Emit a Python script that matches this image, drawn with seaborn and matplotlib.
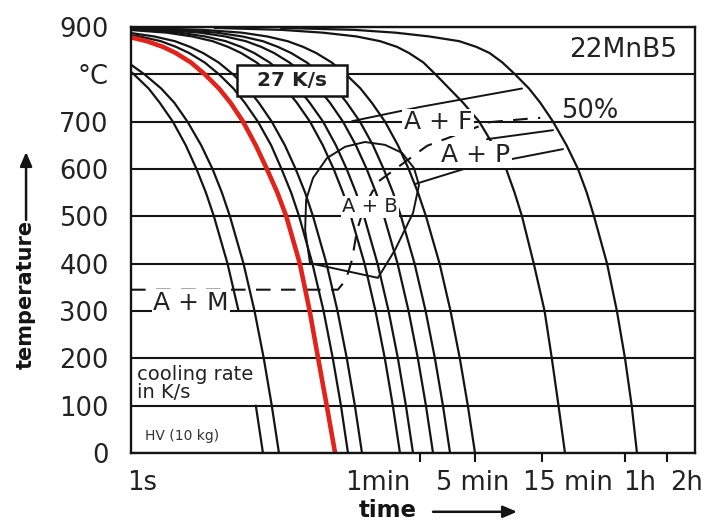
import matplotlib
matplotlib.use("Agg")
import matplotlib.pyplot as plt
import seaborn as sns
from matplotlib.ticker import FixedLocator, NullFormatter

# ---------------- data ----------------
# temperature levels (°C) at which the cooling curves were read
TEMPS = [898, 894, 888, 880, 870, 858, 845, 825, 800, 770, 740, 700, 650, 600,
         550, 500, 400, 300, 200, 100, 0]

# time (s) at which each cooling curve reaches the levels above
C1 = [0.036, 0.098, 0.187, 0.285, 0.40, 0.52, 0.64, 0.83, 1.05, 1.34, 1.61, 2.0,
      2.48, 2.96, 3.46, 3.95, 4.95, 5.94, 6.92, 7.91, 8.9]
C2 = [0.046, 0.128, 0.244, 0.371, 0.50, 0.63, 0.76, 0.95, 1.25, 1.65, 2.05, 2.55,
      3.2, 3.86, 4.51, 5.15, 6.45, 7.74, 9.02, 10.3, 11.6]
RED_27KS = [0.12, 0.32, 0.62, 0.94, 1.3, 1.7, 2.1, 2.7, 3.4, 4.3, 5.2, 6.4, 7.9,
            9.5, 11.3, 13.1, 16.4, 19.3, 22.2, 25.6, 29.4]
C4 = [0.146, 0.40, 0.76, 1.16, 1.64, 2.11, 2.62, 3.39, 4.30, 5.46, 6.59, 8.19,
      10.2, 12.1, 14.2, 16.2, 20.2, 24.3, 28.3, 32.4, 36.4]
C5 = [0.184, 0.50, 0.96, 1.47, 2.07, 2.66, 3.30, 4.27, 5.42, 6.89, 8.31, 10.3,
      12.8, 15.3, 17.9, 20.4, 25.5, 30.6, 35.7, 40.8, 45.9]
C6 = [0.344, 0.95, 1.81, 2.76, 3.87, 4.99, 6.20, 8.01, 10.2, 12.9, 15.6, 19.4,
      24.0, 28.7, 33.5, 38.2, 47.9, 57.4, 67.0, 76.5, 86.1]
C7 = [0.43, 1.18, 2.24, 3.42, 4.81, 6.20, 7.70, 9.94, 12.6, 16.0, 19.3, 24.1,
      29.8, 35.6, 41.6, 47.5, 59.4, 71.3, 83.2, 95.0, 106.9]
C8 = [0.60, 1.64, 3.13, 4.76, 6.70, 8.64, 10.7, 13.8, 17.6, 22.3, 27.0, 33.5,
      41.5, 49.6, 57.9, 66.1, 82.8, 99.3, 115.8, 132.4, 148.9]
C9 = [0.79, 2.17, 4.15, 6.32, 8.88, 11.4, 14.2, 18.4, 23.3, 29.6, 35.7, 44.4,
      55.1, 65.7, 76.8, 87.6, 109.7, 131.7, 153.6, 175.5, 197.4]
C10 = [1.19, 3.28, 6.27, 9.55, 13.4, 17.3, 21.5, 27.8, 35.2, 44.8, 54.0, 67.2,
       83.3, 99.4, 116.1, 132.5, 166, 199, 232, 265, 298.5]
C11 = [4, 12, 24, 42, 62, 82, 100, 127, 155, 195, 245, 320, 405, 500, 575, 650,
       790, 945, 1065, 1190, 1325]
C12 = [12, 40, 80, 140, 230, 305, 380, 470, 579, 730, 880, 1087, 1360, 1644,
       1900, 2143, 2660, 3130, 3580, 4000, 4365]
BLACK_CURVES = [C2, C4, C5, C6, C7, C8, C9, C10, C11, C12]
# the fastest curve is interrupted between 200 °C and 100 °C (label gap)
C1_BREAK = 19   # index of the 100 °C level in TEMPS

# bainite region outline (time s, temperature °C)
BAIN_T = [19.4, 17.9, 18.2, 20.4, 25.7, 34.7, 48.2, 67.2, 89.1, 108.6, 118, 106.9, 79.3, 59.8, 19.4]
BAIN_C = [401, 471, 535, 581, 623, 647, 657, 651, 634, 602, 566, 507, 429, 370, 401]

# ferrite start line
FERR_T = [38.9, 120, 650]
FERR_C = [701, 731, 770]

# pearlite start line
PERL_T = [110, 275, 595, 1282]
PERL_C = [568, 604, 623, 642]

# 50 % line (Ms horizontal part, then up through A+B towards 50 %)
HALF_T = [1, 30.8, 35.2, 38.9, 42.3, 48.2, 59.8, 135, 383, 706, 880]
HALF_C = [345, 345, 366, 408, 471, 524, 573, 649, 699, 706, 708]

# short line right of A + F
FBR_T = [364, 1087]
FBR_C = [663, 682]

# axis ticks / labels
Y_TICKS = [0, 100, 200, 300, 400, 500, 600, 700, 800, 900]
Y_LABELS = ["0", "100", "200", "300", "400", "500", "600", "700", "°C", "900"]
X_TICK_MARKS = [60, 120, 300, 900, 3600, 7200]
X_LABEL_POS = [1.2, 60, 289, 1393, 4590, 10000]
X_LABELS = ["1s", "1min", "5 min", "15 min", "1h", "2h"]

# ---------------- drawing ----------------
sns.set_theme(style="white")
plt.rcParams["font.family"] = ["DejaVu Sans"]

INK = "#141414"
TXT = "#222222"
RED = "#e1231c"

fig = plt.figure(figsize=(7.13, 5.22), dpi=100)
ax = fig.add_axes([0.1837, 0.1322, 0.7911, 0.8161])

line_kw = dict(ax=ax, sort=False, estimator=None, legend=False)

sns.lineplot(x=C1[:C1_BREAK - 1], y=TEMPS[:C1_BREAK - 1], color=INK, linewidth=1.6,
             zorder=3, **line_kw)
sns.lineplot(x=C1[C1_BREAK:], y=TEMPS[C1_BREAK:], color=INK, linewidth=1.6,
             zorder=3, **line_kw)
for c in BLACK_CURVES:
    sns.lineplot(x=c, y=TEMPS, color=INK, linewidth=1.6, zorder=3, **line_kw)
sns.lineplot(x=RED_27KS, y=TEMPS, color=RED, linewidth=3.3, zorder=4, **line_kw)

sns.lineplot(x=BAIN_T, y=BAIN_C, color=INK, linewidth=1.4, zorder=3, **line_kw)
sns.lineplot(x=FERR_T, y=FERR_C, color=INK, linewidth=1.4, zorder=3, **line_kw)
sns.lineplot(x=PERL_T, y=PERL_C, color=INK, linewidth=1.4, zorder=3, **line_kw)
sns.lineplot(x=FBR_T, y=FBR_C, color=INK, linewidth=1.4, zorder=3, **line_kw)
sns.lineplot(x=HALF_T, y=HALF_C, color=INK, linewidth=1.5, linestyle=(0, (7, 5)),
             zorder=3, **line_kw)

ax.set_xscale("log")
ax.set_xlim(1, 11420)
ax.set_ylim(0, 900)

ax.set_yticks(Y_TICKS)
ax.set_yticklabels(Y_LABELS)
ax.tick_params(axis="y", length=0, pad=16, labelsize=18.5, labelcolor=TXT)

ax.xaxis.set_major_locator(FixedLocator(X_LABEL_POS))
ax.set_xticklabels(X_LABELS)
ax.xaxis.set_minor_locator(FixedLocator(X_TICK_MARKS))
ax.xaxis.set_minor_formatter(NullFormatter())
ax.tick_params(axis="x", which="major", length=0, pad=12, labelsize=18.5, labelcolor=TXT)
ax.tick_params(axis="x", which="minor", length=6.5, width=1.5, direction="out",
               color=INK, bottom=True)

ax.grid(False)
ax.yaxis.grid(True, color=INK, linewidth=1.5, zorder=1)
ax.set_axisbelow(True)
for s in ax.spines.values():
    s.set_color(INK)
    s.set_linewidth(1.7)
    s.set_zorder(5)

# axis titles with arrows
ax.set_ylabel("temperature", fontsize=15, fontweight="bold", color=INK)
ax.yaxis.label.set_va("center")
ax.yaxis.set_label_coords(-0.186, 0.373)
ax.set_xlabel("time", fontsize=16.5, fontweight="bold", color=INK)
ax.xaxis.label.set_va("center")
ax.xaxis.set_label_coords(0.456, -0.136)

arrow = dict(arrowstyle="-|>,head_length=0.7,head_width=0.3", lw=1.8, color=INK,
             shrinkA=0, shrinkB=0)
ax.annotate("", xy=(0.6844, -0.138), xytext=(0.5355, -0.138), xycoords="axes fraction",
            arrowprops=arrow, annotation_clip=False)
ax.annotate("", xy=(-0.186, 0.7066), xytext=(-0.186, 0.547), xycoords="axes fraction",
            arrowprops=arrow, annotation_clip=False)

# annotations inside the diagram
wbox = dict(facecolor="white", edgecolor="none", pad=1.0)
ax.text(52.4, 520, "A + B", ha="center", va="center", fontsize=14, color=TXT,
        bbox=wbox, zorder=6)
ax.text(162, 699, "A + F", ha="center", va="center", fontsize=18, color=TXT,
        bbox=wbox, zorder=6)
ax.text(303, 630, "A + P", ha="center", va="center", fontsize=18, color=TXT,
        bbox=wbox, zorder=6)
ax.text(2.7, 317, "A + M", ha="center", va="center", fontsize=18, color=TXT,
        bbox=wbox, zorder=6)
ax.text(2005, 723, "50%", ha="center", va="center", fontsize=18.5, color=TXT, zorder=6)
ax.text(3465, 851, "22MnB5", ha="center", va="center", fontsize=19, color=TXT, zorder=6)
ax.text(14.4, 786, "  27 K/s  ", ha="center", va="center", fontsize=14.5,
        fontweight="bold", color=TXT, zorder=7,
        bbox=dict(boxstyle="square,pad=0.3", facecolor="white", edgecolor=INK, linewidth=1.8))
ax.text(1.1, 186, "cooling rate\nin K/s", ha="left", va="top", fontsize=14,
        color=TXT, linespacing=0.92, zorder=6)
ax.text(1.26, 36, "HV (10 kg)", ha="left", va="center", fontsize=10, color="#333333", zorder=6)

fig.savefig("out.png", dpi=100)
